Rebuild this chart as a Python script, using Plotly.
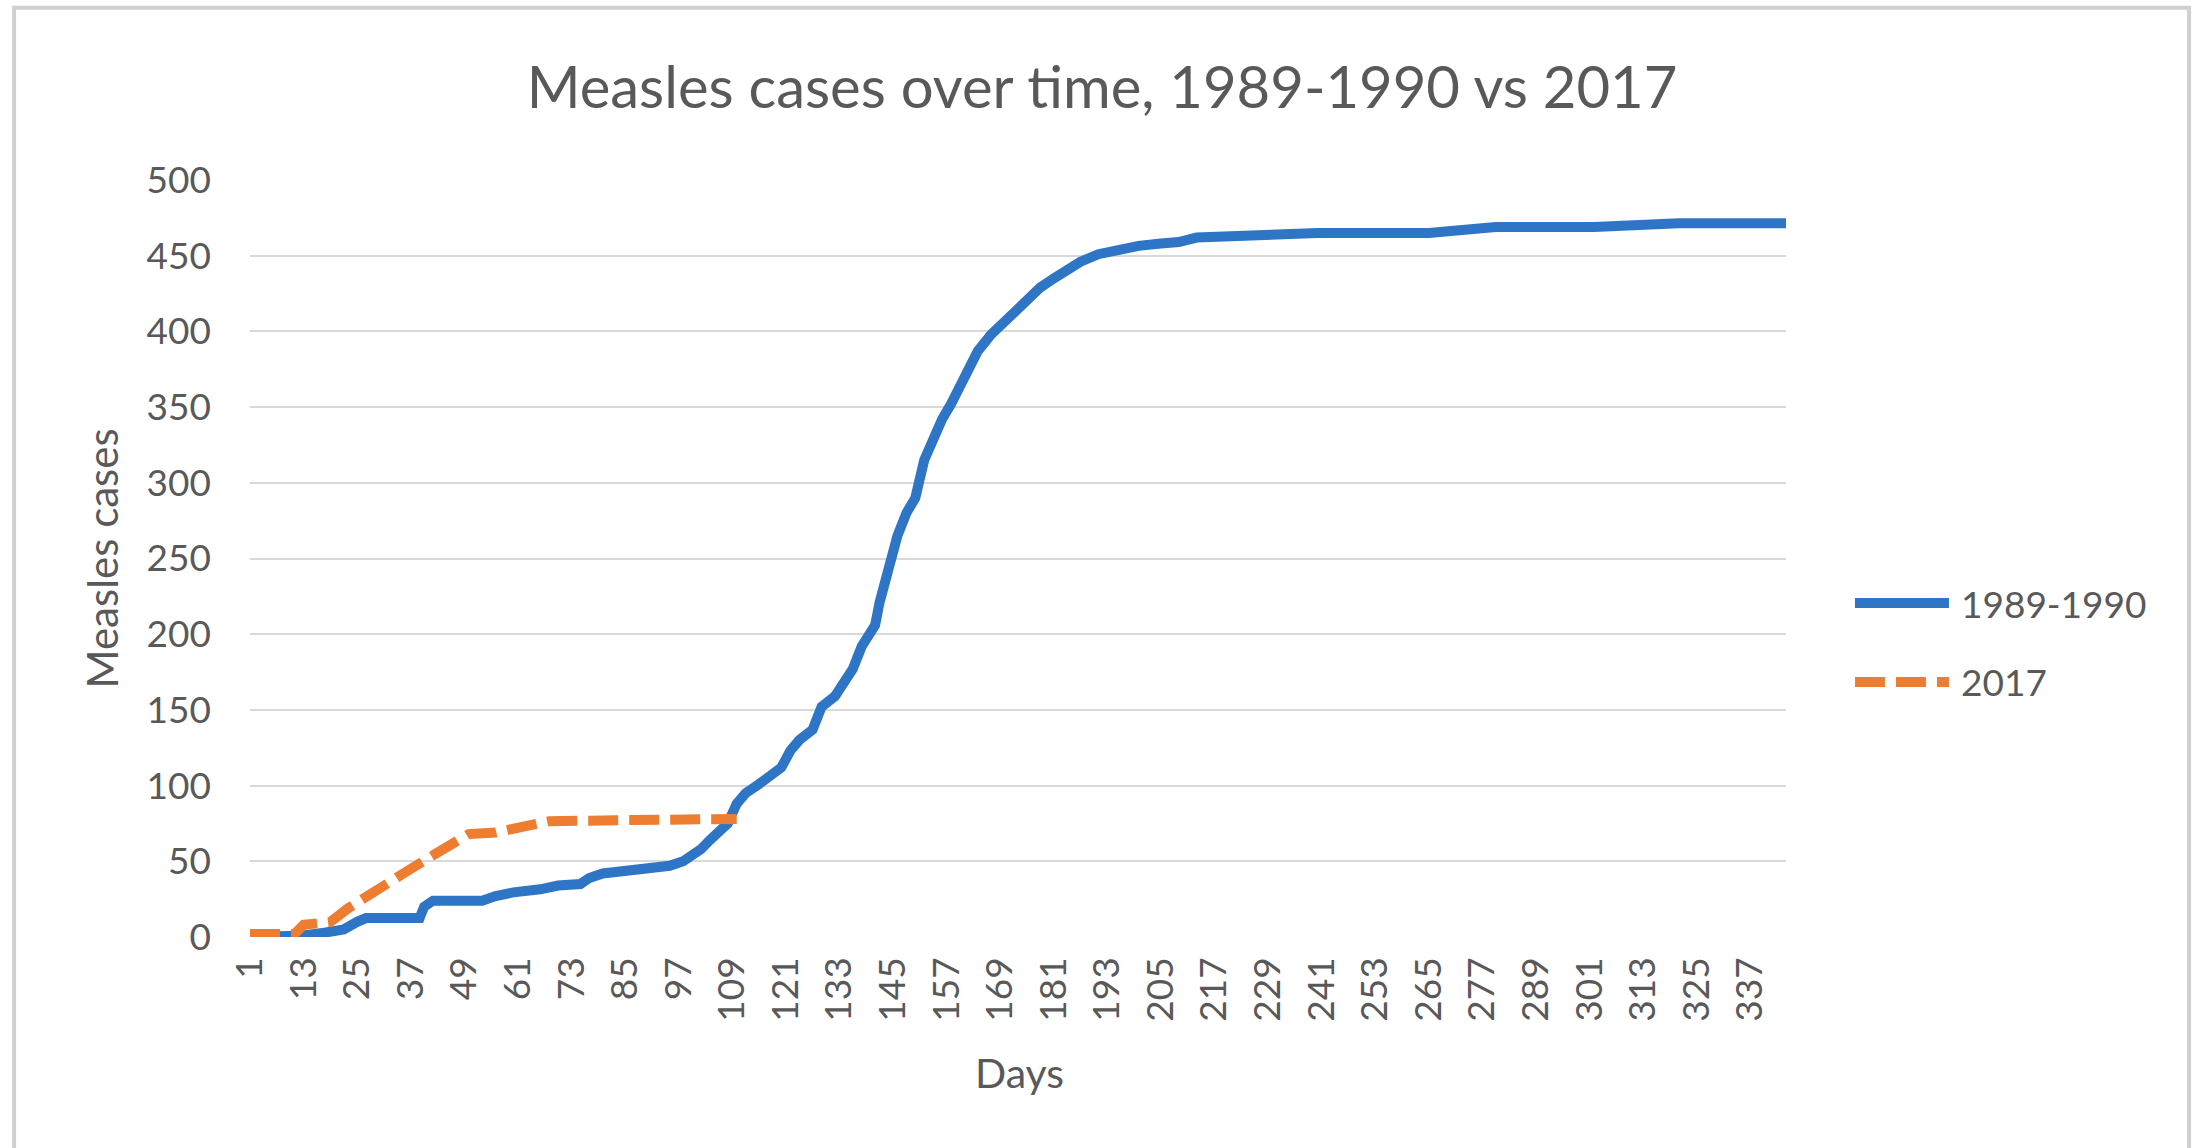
import plotly.graph_objects as go

# ── Data ──────────────────────────────────────────────────────────────────────
days_1989 = [1, 12, 13, 18, 22, 25, 27, 39, 40, 42, 53, 56, 60, 66, 70, 75, 77, 80,
             85, 90, 95, 98, 100, 102, 104, 106, 108, 110, 112, 115, 117, 120, 122,
             124, 127, 129, 132, 134, 136, 138, 141, 142, 144, 146, 148, 150, 152,
             154, 156, 158, 160, 162, 164, 167, 169, 172, 175, 178, 181, 184, 187,
             191, 195, 200, 205, 209, 213, 220, 228, 240, 265, 271, 280, 302, 307,
             321, 345]
cases_1989 = [0, 0, 1, 3, 5, 10, 12.5, 12.5, 20, 24, 24, 27, 29.5, 31.5, 34, 35, 39,
              42, 44, 45, 47, 50, 54, 58, 64, 70, 75, 88, 95, 101, 106, 112, 123,
              130, 137, 152, 159, 167, 177, 192, 206, 221, 245, 265, 280, 290, 315,
              330, 342, 352, 365, 378, 387, 398, 404, 413, 421, 429, 435, 441, 446,
              451, 454, 456.5, 458, 459, 462, 463, 464, 465, 465, 467, 469, 469,
              470, 471.5, 471.5]

days_2017 = [1, 11, 13, 19, 23, 27, 30, 34, 37, 42, 46, 50, 56, 60, 64, 68, 80, 98,
             103, 110]
cases_2017 = [2, 2, 8, 10, 19, 26, 31, 39, 45, 54, 61, 68, 69, 72, 75, 76.5, 77, 77,
              78, 78]

series_names = ["1989-1990", "2017"]
x_ticks = list(range(1, 346, 12))
y_ticks = list(range(0, 501, 50))

# ── Style ─────────────────────────────────────────────────────────────────────
_BLUE   = "#2F75C6"
_ORANGE = "#ED7D31"
_TEXT   = "#595959"
_GRID   = "#D9D9D9"
_FONT   = "Lato"
_DASH   = "30px,11px"

fig = go.Figure()

fig.add_trace(go.Scatter(
    x    = days_1989,
    y    = cases_1989,
    mode = "lines",
    name = series_names[0],
    line = dict(color=_BLUE, width=10),
    showlegend = False,
))
fig.add_trace(go.Scatter(
    x    = days_2017,
    y    = cases_2017,
    mode = "lines",
    name = series_names[1],
    line = dict(color=_ORANGE, width=10, dash=_DASH),
    showlegend = False,
))

# ── Legend drawn by hand (long sample lines as in the original) ──────────────
legend_rows = [(series_names[0], _BLUE, "solid", 0.4412),
               (series_names[1], _ORANGE, _DASH, 0.3369)]
shapes = []
annotations = []
for label, color, dash, ypos in legend_rows:
    shapes.append(dict(type="line", xref="paper", yref="paper",
                       x0=1.0449, x1=1.1061, y0=ypos, y1=ypos,
                       line=dict(color=color, width=10, dash=dash)))
    annotations.append(dict(text=label, xref="paper", yref="paper",
                            x=1.1126, y=ypos, xanchor="left", yanchor="middle",
                            showarrow=False,
                            font=dict(size=37, color=_TEXT, family=_FONT)))

# chart-area border
shapes.append(dict(type="rect", xref="paper", yref="paper",
                   x0=-0.1536, x1=1.2624, y0=-0.32, y1=1.2277,
                   line=dict(color="#D0D0D0", width=4), layer="below"))

annotations.append(dict(text="Measles cases", xref="paper", yref="paper",
                        x=-0.0964, y=0.5, textangle=-90,
                        xanchor="center", yanchor="middle", showarrow=False,
                        font=dict(size=42, color=_TEXT, family=_FONT)))
annotations.append(dict(text="Days", xref="paper", yref="paper",
                        x=0.5007, y=-0.1795, xanchor="center", yanchor="middle",
                        showarrow=False,
                        font=dict(size=41, color=_TEXT, family=_FONT)))

fig.update_layout(
    title = dict(
        text    = "Measles cases over time, 1989-1990 vs 2017",
        font    = dict(size=58, color=_TEXT, family=_FONT),
        x       = 0.5547,
        xref    = "paper",
        xanchor = "center",
        y       = 0.924,
        yanchor = "middle",
    ),
    paper_bgcolor = "white",
    plot_bgcolor  = "white",
    font          = dict(color=_TEXT, family=_FONT, size=37),
    width  = 2199,
    height = 1148,
    margin = dict(l=250, r=413, t=180, b=211),
    xaxis = dict(
        range     = [1, 345],
        tickvals  = x_ticks,
        ticktext  = [str(t) for t in x_ticks],
        tickangle = -90,
        tickfont  = dict(size=37, color=_TEXT, family=_FONT),
        showgrid  = False,
        zeroline  = False,
        showline  = False,
        ticklabelstandoff = 12,
    ),
    yaxis = dict(
        range     = [0, 500],
        tickvals  = y_ticks,
        tickfont  = dict(size=37, color=_TEXT, family=_FONT),
        showgrid  = True,
        gridcolor = _GRID,
        gridwidth = 2,
        zeroline  = False,
        showline  = False,
        ticklabelstandoff = 38,
    ),
    shapes      = shapes,
    annotations = annotations,
    showlegend  = False,
)

# the page's default body margin would push the figure 8px off the origin
fig.write_html("out.html",
               config={"displayModeBar": False},
               post_script="document.body.style.margin='0';")
